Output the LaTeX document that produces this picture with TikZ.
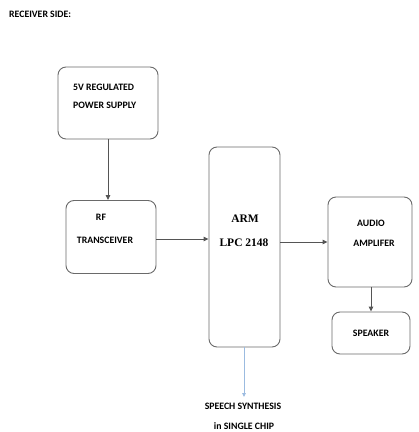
\documentclass[tikz,border=0pt]{standalone}
\usepackage{fontspec}
\setmainfont{Carlito}
\newfontfamily\serfont{Liberation Serif}
\usetikzlibrary{arrows.meta,calc}
\definecolor{boxgray}{HTML}{6A6A6A}
\definecolor{arrgray}{HTML}{555555}
\definecolor{lblue}{HTML}{9BBBE0}
\tikzset{
  blk/.style={draw=boxgray, line width=0.9pt, rounded corners=8pt, minimum width=#1, inner sep=0pt},
  lbl/.style={font=\fontsize{9.8}{11}\selectfont\bfseries, inner sep=0pt},
  conn/.style={draw=arrgray, line width=0.9pt, -{Triangle[length=5pt,width=4.5pt]}},
  bconn/.style={draw=lblue, line width=0.9pt, -{Triangle[length=4pt,width=3.5pt]}}
}
\begin{document}
\begin{tikzpicture}[x=1pt,y=-1pt]
\useasboundingbox (0,0) rectangle (419,432);
\node[lbl, anchor=west] (title) at (9,14) {RECEIVER SIDE:};
% boxes
\node[blk=100pt, minimum height=72pt] (ps) at (108,103) {};
\node[blk=90pt, minimum height=73pt] (rf) at (111,237) {};
\node[blk=71pt, minimum height=200pt] (arm) at (244.5,247) {};
\node[blk=84pt, minimum height=90pt] (amp) at (370,242) {};
\node[blk=78pt, minimum height=42pt] (spk) at (371,333) {};
% texts
\node[lbl, anchor=west] (ps1) at (73,87) {5V REGULATED};
\node[lbl, anchor=west] (ps2) at (73,105) {POWER SUPPLY};
\node[lbl] (rf1) at (101,217) {RF};
\node[lbl] (rf2) at (105,240) {TRANSCEIVER};
\node[font=\serfont\fontsize{11.5}{12}\selectfont\bfseries, inner sep=0pt] (arm1) at (245,219) {ARM};
\node[font=\serfont\fontsize{11.5}{12}\selectfont\bfseries, inner sep=0pt] (arm2) at (244,243) {LPC 2148};
\node[lbl] (amp1) at (371,223) {AUDIO};
\node[lbl] (amp2) at (374,243) {AMPLIFER};
\node[lbl] (spk1) at (371,333) {SPEAKER};
\node[lbl] (sp1) at (243,406) {SPEECH SYNTHESIS};
\node[lbl] (sp2) at (244,426) {in SINGLE CHIP};
\coordinate (spend) at (244,397);
% connectors
\draw[conn] (ps.south) -- (ps.south |- rf.north);
\draw[conn] ($(rf.east)+(0,2)$) -- ($(arm.west |- rf.east)+(0,2)$);
\draw[conn] (arm.east |- amp.west) -- (amp.west);
\draw[conn] (spk.north |- amp.south) -- (spk.north);
\draw[bconn] (arm.south -| spend) -- (spend);
\end{tikzpicture}
\end{document}
